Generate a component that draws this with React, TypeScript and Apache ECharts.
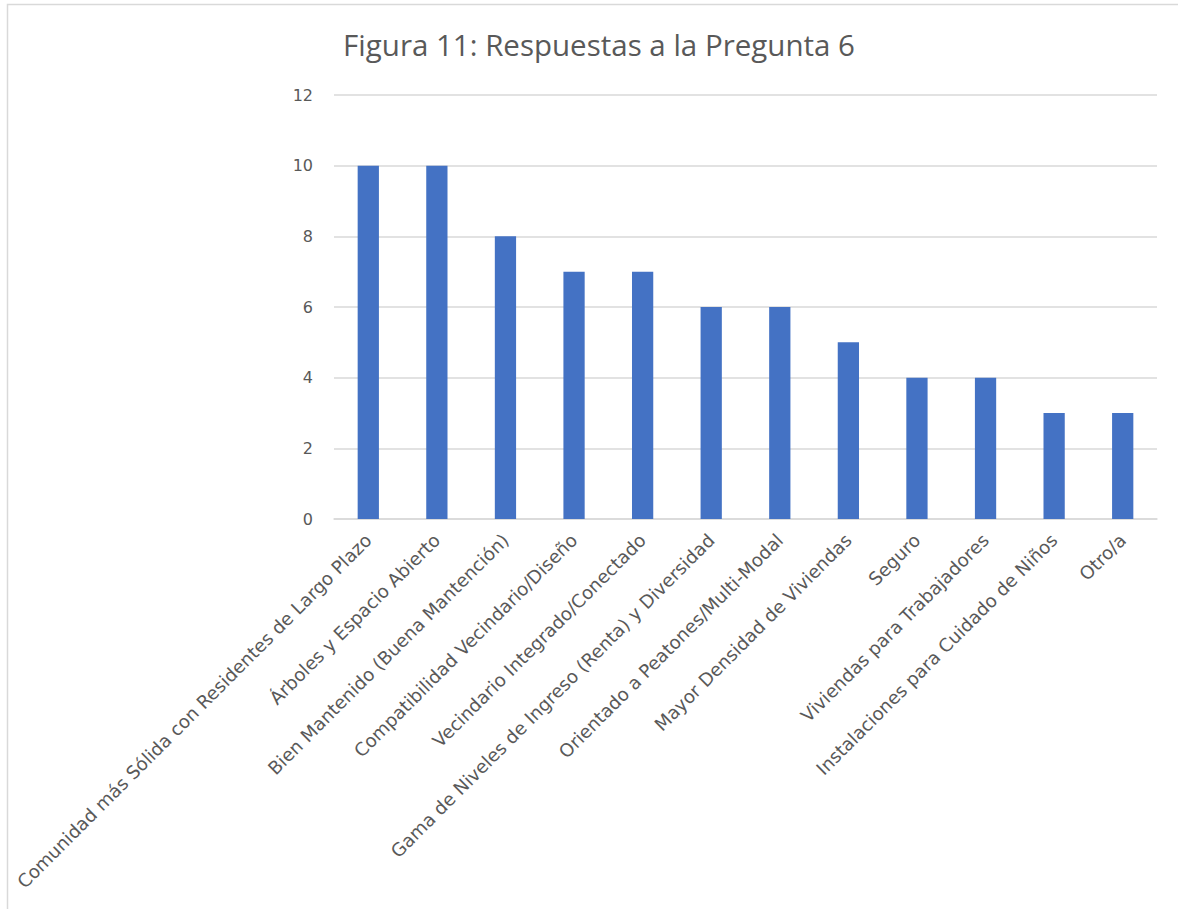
import React, { useEffect, useRef } from "react";
import * as echarts from "echarts";

const categories = [
  "Comunidad más Sólida con Residentes de Largo Plazo",
  "Árboles y Espacio Abierto",
  "Bien Mantenido (Buena Mantención)",
  "Compatibilidad Vecindario/Diseño",
  "Vecindario Integrado/Conectado",
  "Gama de Niveles de Ingreso (Renta) y Diversidad",
  "Orientado a Peatones/Multi-Modal",
  "Mayor Densidad de Viviendas",
  "Seguro",
  "Viviendas para Trabajadores",
  "Instalaciones para Cuidado de Niños",
  "Otro/a",
];
const values = [10, 10, 8, 7, 7, 6, 6, 5, 4, 4, 3, 3];
const titleText = "Figura 11: Respuestas a la Pregunta 6";

export default function App() {
  const ref = useRef<HTMLDivElement>(null);
  useEffect(() => {
    if (!ref.current) return;
    const chart = echarts.init(ref.current, null, { renderer: "svg" });
    chart.setOption({
      animation: false,
      backgroundColor: "#ffffff",
      textStyle: { fontFamily: "DejaVu Sans" },
      title: {
        text: titleText,
        left: 594,
        top: 24,
        textAlign: "center",
        textStyle: { fontFamily: "Open Sans", fontSize: 29.5, fontWeight: "normal", color: "#595959" },
      },
      graphic: [
        {
          type: "rect",
          shape: { x: 7.5, y: 4.5, width: 1300, height: 1000 },
          style: { fill: "none", stroke: "#d9d9d9", lineWidth: 1.5 },
          silent: true,
          z: -1,
        },
      ],
      grid: { left: 334, right: 21, top: 95, bottom: 390, containLabel: false },
      xAxis: {
        type: "category",
        data: categories,
        axisLine: { lineStyle: { color: "#d9d9d9", width: 1.5 } },
        axisTick: { show: false },
        axisLabel: {
          interval: 0,
          rotate: 45,
          margin: 18,
          color: "#595959",
          fontSize: 18.2,
          fontFamily: "DejaVu Sans",
        },
      },
      yAxis: {
        type: "value",
        min: 0,
        max: 12,
        interval: 2,
        axisLine: { show: false },
        axisTick: { show: false },
        splitLine: { lineStyle: { color: "#d9d9d9", width: 1.5 } },
        axisLabel: { color: "#595959", fontSize: 16, margin: 21, fontFamily: "DejaVu Sans" },
      },
      series: [
        {
          type: "bar",
          data: values,
          barWidth: "31%",
          itemStyle: { color: "#4472C4" },
        },
      ],
    });
    return () => chart.dispose();
  }, []);
  return (
    <div
      ref={ref}
      style={{ position: "fixed", left: 0, top: 0, width: 1178, height: 909 }}
    />
  );
}
